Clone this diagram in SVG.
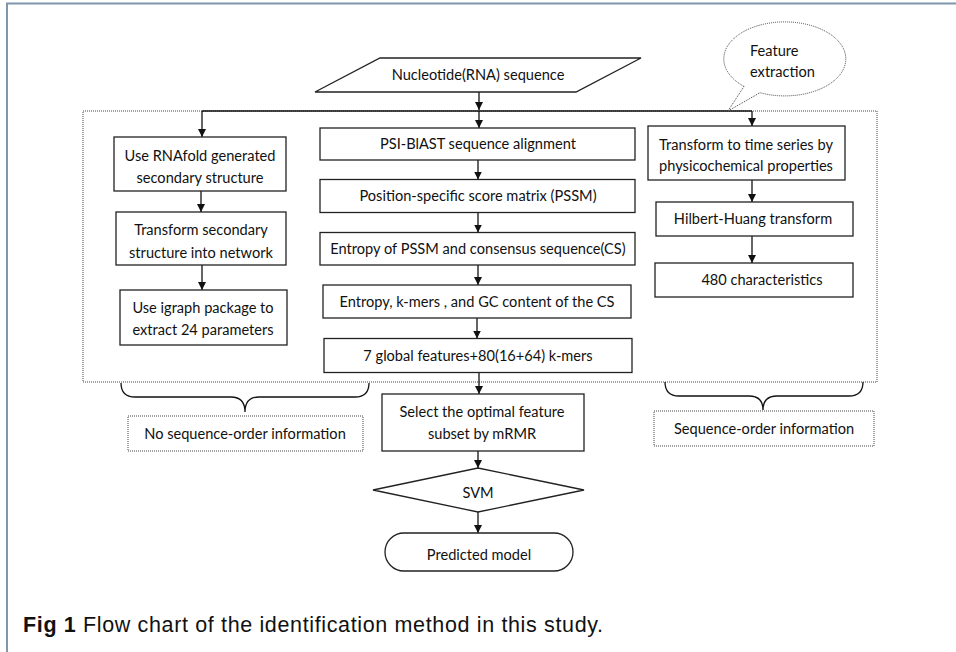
<svg xmlns="http://www.w3.org/2000/svg" width="956" height="652" viewBox="0 0 956 652">
<defs>
<marker id="ah" markerWidth="8" markerHeight="9" refX="8" refY="4" orient="auto" markerUnits="userSpaceOnUse"><path d="M0,0 L8,4 L0,8 Z" fill="#111"/></marker>
<style>
.box{fill:#fff;stroke:#222;stroke-width:1.3}
.dot{fill:none;stroke:#444;stroke-width:1;stroke-dasharray:1 1}
.dotf{fill:#fff;stroke:#444;stroke-width:1;stroke-dasharray:1 1}
.t{font-family:Lato,"Liberation Sans",sans-serif;font-size:14.6px;fill:#111;text-anchor:middle}
.ln{fill:none;stroke:#111;stroke-width:1.3}
.arr{fill:none;stroke:#111;stroke-width:1.3;marker-end:url(#ah)}
.cap{font-family:"Liberation Sans",sans-serif;font-size:21.5px;fill:#111}
</style>
</defs>
<rect x="0" y="0" width="956" height="652" fill="#fff"/>
<path d="M7,652 V3.5 H956" fill="none" stroke="#7f96ad" stroke-width="2"/>

<g id="feature-region"><rect class="dot" x="83" y="111" width="794" height="271"/></g>

<g id="connectors">
<path class="ln" d="M202,111 H752"/>
<path class="arr" d="M479,92 V110"/>
<path class="arr" d="M479,111 V128"/>
<path class="arr" d="M202,111 V137"/>
<path class="arr" d="M752,111 V126"/>
<path class="arr" d="M201,191 V212"/>
<path class="arr" d="M202,265 V290"/>
<path class="arr" d="M478,160 V179.5"/>
<path class="arr" d="M478,212.5 V232.5"/>
<path class="arr" d="M478,265 V285"/>
<path class="arr" d="M477,318 V338.5"/>
<path class="arr" d="M479,372.5 V394"/>
<path class="arr" d="M478,451 V468"/>
<path class="arr" d="M478,512 V533"/>
<path class="arr" d="M752,180 V202"/>
<path class="arr" d="M752,236 V263"/>
<path class="ln" d="M121,383 Q121,397 135,397 H231 Q245,397 245,412 Q245,397 259,397 H355 Q369,397 369,383"/>
<path class="ln" d="M665,382 Q665,396 679,396 H749 Q763,396 763,410 Q763,396 777,396 H849 Q863,396 863,382"/>
</g>

<g id="input"><polygon class="box" points="380,58 641,58 576,92 315,92"/><text class="t" x="478" y="80">Nucleotide(RNA) sequence</text></g>

<g id="callout"><path class="dotf" d="M744,86.4 A61,37 0 1 1 760,92.7 L728,111 Z"/>
<text class="t" style="text-anchor:start" x="750" y="56">Feature</text>
<text class="t" style="text-anchor:start" x="750" y="77">extraction</text></g>

<g id="psi"><rect class="box" x="320" y="128" width="315" height="32"/><text class="t" x="478" y="149">PSI-BlAST sequence alignment</text></g>
<g id="pssm"><rect class="box" x="320" y="179.5" width="315" height="33"/><text class="t" x="478" y="201">Position-specific score matrix (PSSM)</text></g>
<g id="entropy"><rect class="box" x="320" y="232.5" width="315" height="32.5"/><text class="t" x="478" y="253.5">Entropy of PSSM and consensus sequence(CS)</text></g>
<g id="kmers"><rect class="box" x="323" y="285" width="308" height="33"/><text class="t" x="477" y="306.5">Entropy, k-mers , and GC content of the CS</text></g>
<g id="global"><rect class="box" x="324" y="338.5" width="308" height="34"/><text class="t" x="478" y="360.5">7 global features+80(16+64) k-mers</text></g>
<g id="mrmr"><rect class="box" x="382" y="394" width="202" height="57"/><text class="t" x="482" y="417">Select the optimal feature</text><text class="t" x="482" y="439">subset by mRMR</text></g>
<g id="svm"><polygon class="box" points="373,490 478,468 584,490 478,512"/><text class="t" x="478" y="498">SVM</text></g>
<g id="predicted"><rect class="box" x="385" y="533" width="188" height="38" rx="19" ry="19"/><text class="t" x="479" y="560">Predicted model</text></g>

<g id="rnafold"><rect class="box" x="114" y="137" width="172" height="54"/><text class="t" x="200" y="161">Use RNAfold generated</text><text class="t" x="200" y="183">secondary structure</text></g>
<g id="network"><rect class="box" x="116" y="212" width="170" height="53"/><text class="t" x="201" y="235">Transform secondary</text><text class="t" x="201" y="258">structure into network</text></g>
<g id="igraph"><rect class="box" x="120" y="290" width="167" height="55"/><text class="t" x="203" y="313">Use igraph package to</text><text class="t" x="203" y="335">extract 24 parameters</text></g>

<g id="timeseries"><rect class="box" x="648" y="126" width="197" height="54"/><text class="t" x="746" y="150">Transform to time series by</text><text class="t" x="746" y="171">physicochemical properties</text></g>
<g id="hht"><rect class="box" x="656" y="202" width="197" height="34"/><text class="t" x="753" y="224">Hilbert-Huang transform</text></g>
<g id="chars"><rect class="box" x="655" y="263" width="198" height="34"/><text class="t" x="762" y="285">480 characteristics</text></g>

<g id="no-order"><rect class="dot" x="128" y="416" width="235" height="35"/><text class="t" x="245" y="439">No sequence-order information</text></g>
<g id="order"><rect class="dot" x="654" y="411" width="220" height="35"/><text class="t" x="764" y="434">Sequence-order information</text></g>

<text class="cap" x="23" y="632" textLength="580" lengthAdjust="spacing"><tspan font-weight="bold">Fig 1</tspan> Flow chart of the identification method in this study.</text>
</svg>
